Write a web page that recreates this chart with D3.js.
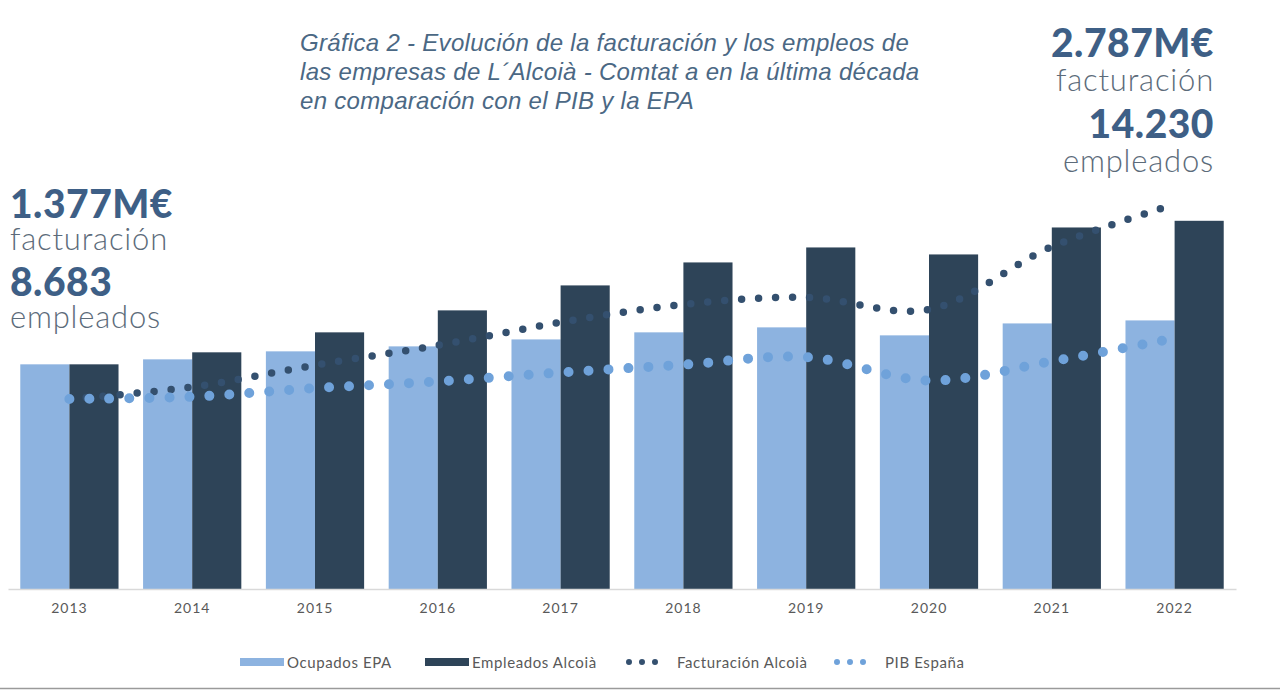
<!DOCTYPE html>
<html>
<head>
<meta charset="utf-8">
<script src="https://cdn.jsdelivr.net/npm/d3@7"></script>
<style>
    html, body { margin: 0; padding: 0; background: #fff; }
    svg { display: block; }
</style>
</head>
<body>
<svg id="chart" width="1280" height="690"></svg>
<script>
// data
const years = ["2013", "2014", "2015", "2016", "2017", "2018", "2019", "2020", "2021", "2022"];
const ocupadosEPA = [17140, 17520, 18130, 18510, 19040, 19580, 19960, 19350, 20260, 20490];   // miles
const empleadosAlcoia = [8683, 9147, 9919, 10768, 11733, 12621, 13200, 12930, 13972, 14230];
const facturacionAlcoia = [1377, 1464, 1622, 1766, 1932, 2062, 2113, 2026, 2480, 2787];        // M€
const pibEspana = [1020, 1032, 1078, 1114, 1162, 1204, 1245, 1119, 1222, 1346];                // miles de M€

const titleLines = [
    "Gráfica 2 - Evolución de la facturación y los empleos de",
    "las empresas de L´Alcoià - Comtat a en la última década",
    "en comparación con el PIB y la EPA"
];

const svg = d3.select("#chart");

const plotTop = 175, plotBottom = 589;

const x = d3.scaleBand()
    .domain(years)
    .range([8, 1236])
    .paddingInner(0.2)
    .paddingOuter(0.1);

// the bars share one scale, each series indexed to its 2013 value
const yEmp = d3.scaleLinear().domain([0, 16000]).range([plotBottom, plotTop]);
const yEpa = d3.scaleLinear()
    .domain([0, ocupadosEPA[0] * 16000 / empleadosAlcoia[0]])
    .range([plotBottom, plotTop]);

const yFac = d3.scaleLinear().domain([0, 3000]).range([plotBottom, plotTop]);
const yPib = d3.scaleLinear()
    .domain([0, pibEspana[0] * 3000 / facturacionAlcoia[0]])
    .range([plotBottom, plotTop]);

const half = x.bandwidth() / 2;

// bars
svg.append("g")
    .selectAll("rect")
    .data(years)
    .join("rect")
    .attr("x", d => x(d))
    .attr("y", (d, i) => yEpa(ocupadosEPA[i]))
    .attr("width", half)
    .attr("height", (d, i) => plotBottom - yEpa(ocupadosEPA[i]))
    .attr("fill", "#8db3e0");

svg.append("g")
    .selectAll("rect")
    .data(years)
    .join("rect")
    .attr("x", d => x(d) + half)
    .attr("y", (d, i) => yEmp(empleadosAlcoia[i]))
    .attr("width", half)
    .attr("height", (d, i) => plotBottom - yEmp(empleadosAlcoia[i]))
    .attr("fill", "#2e4458");

// axis
const axis = svg.append("g")
    .attr("transform", `translate(0,${plotBottom})`)
    .call(d3.axisBottom(x).tickSize(0).tickPadding(14));

axis.select(".domain").attr("stroke", "#d9d9d9").attr("stroke-width", 1.5);
axis.selectAll("text")
    .attr("font-family", "Lato, sans-serif")
    .attr("font-size", 14)
    .attr("letter-spacing", "1px")
    .attr("fill", "#595959");

// dotted smooth lines
const line = y => d3.line()
    .x((d, i) => x(years[i]) + half)
    .y(d => y(d))
    .curve(d3.curveCatmullRom.alpha(0.5));

svg.append("path")
    .datum(facturacionAlcoia)
    .attr("d", line(yFac))
    .attr("fill", "none")
    .attr("stroke", "#34506f")
    .attr("stroke-width", 7.5)
    .attr("stroke-linecap", "round")
    .attr("stroke-dasharray", "0 17");

svg.append("path")
    .datum(pibEspana)
    .attr("d", line(yPib))
    .attr("fill", "none")
    .attr("stroke", "#6fa2da")
    .attr("stroke-width", 10)
    .attr("stroke-linecap", "round")
    .attr("stroke-dasharray", "0 20");

// title
svg.append("text")
    .attr("font-family", "'Liberation Sans', Arial, sans-serif")
    .attr("font-style", "italic")
    .attr("font-size", 24)
    .attr("letter-spacing", "0.3px")
    .attr("fill", "#4b6884")
    .selectAll("tspan")
    .data(titleLines)
    .join("tspan")
    .attr("x", 300)
    .attr("y", (d, i) => 51 + i * 29)
    .text(d => d);

// annotations
const note = (xPos, anchor, rows) => {
    const g = svg.append("g").attr("font-family", "Lato, sans-serif").attr("text-anchor", anchor);
    g.selectAll("text")
        .data(rows)
        .join("text")
        .attr("x", xPos)
        .attr("y", d => d.y)
        .attr("font-size", d => d.big ? 39 : 31)
        .attr("font-weight", d => d.big ? 900 : 300)
        .attr("letter-spacing", d => d.big ? "0.5px" : "0.8px")
        .attr("fill", d => d.big ? "#3e5f86" : "#5c6b7a")
        .text(d => d.t);
};

note(10, "start", [
    { t: "1.377M€", y: 218, big: true },
    { t: "facturación", y: 250 },
    { t: "8.683", y: 296, big: true },
    { t: "empleados", y: 328 }
]);

note(1214, "end", [
    { t: "2.787M€", y: 57, big: true },
    { t: "facturación", y: 91 },
    { t: "14.230", y: 138, big: true },
    { t: "empleados", y: 172 }
]);

// legend
const legend = svg.append("g")
    .attr("font-family", "Lato, sans-serif")
    .attr("font-size", 15)
    .attr("letter-spacing", "0.6px")
    .attr("fill", "#595959");

const legendItems = [
    { name: "Ocupados EPA", type: "bar", color: "#8db3e0", x: 240 },
    { name: "Empleados Alcoià", type: "bar", color: "#2e4458", x: 425 },
    { name: "Facturación Alcoià", type: "dot", color: "#34506f", x: 629 },
    { name: "PIB España", type: "dot", color: "#6fa2da", x: 837 }
];

legendItems.forEach(item => {
    if (item.type === "bar") {
        legend.append("rect")
            .attr("x", item.x).attr("y", 658)
            .attr("width", 44).attr("height", 8)
            .attr("fill", item.color);
        legend.append("text").attr("x", item.x + 47).attr("y", 668).text(item.name);
    } else {
        legend.append("line")
            .attr("x1", item.x).attr("x2", item.x + 39)
            .attr("y1", 662).attr("y2", 662)
            .attr("stroke", item.color)
            .attr("stroke-width", 6)
            .attr("stroke-linecap", "round")
            .attr("stroke-dasharray", "0 13");
        legend.append("text").attr("x", item.x + 48).attr("y", 668).text(item.name);
    }
});

// frame line at the bottom
svg.append("line")
    .attr("x1", 0).attr("x2", 1280)
    .attr("y1", 688.5).attr("y2", 688.5)
    .attr("stroke", "#9a9a9a")
    .attr("stroke-width", 1.5);
</script>
</body>
</html>
